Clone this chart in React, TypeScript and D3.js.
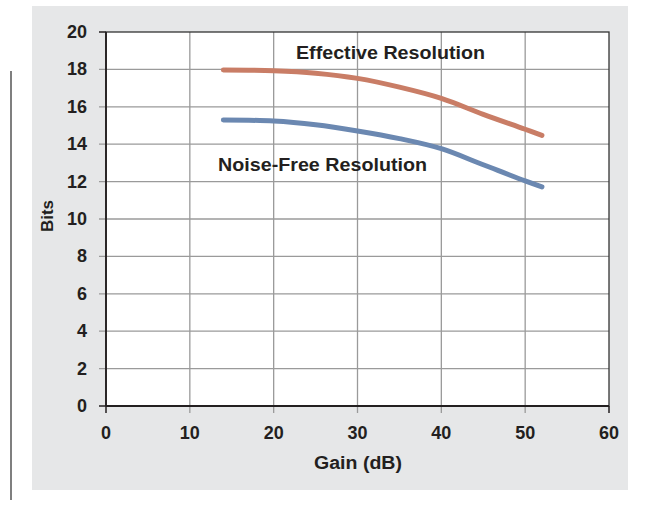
import React from "react";
import * as d3 from "d3";

const xTicks = [0, 10, 20, 30, 40, 50, 60];
const yTicks = [0, 2, 4, 6, 8, 10, 12, 14, 16, 18, 20];
const gain = [14, 20, 25, 30, 35, 40, 45, 50, 52];
const effective = [17.97, 17.93, 17.8, 17.52, 17.05, 16.45, 15.6, 14.8, 14.47];
const noiseFree = [15.29, 15.24, 15.04, 14.71, 14.3, 13.76, 12.9, 12.04, 11.72];

export default function App() {
  const W = 647, H = 508;
  const x = d3.scaleLinear().domain([0, 60]).range([106, 609]);
  const y = d3.scaleLinear().domain([0, 20]).range([406, 32]);
  const line = d3
    .line<[number, number]>()
    .x((d) => x(d[0]))
    .y((d) => y(d[1]))
    .curve(d3.curveCatmullRom.alpha(0.5));
  const eff = gain.map((g, i) => [g, effective[i]] as [number, number]);
  const nf = gain.map((g, i) => [g, noiseFree[i]] as [number, number]);
  const font = "'Liberation Sans', Arial, sans-serif";
  const txt = "#231f20";
  return (
    <svg width={W} height={H} style={{ position: "absolute", left: 0, top: 0 }}>
      <line x1={11} x2={11} y1={71} y2={500} stroke="#555" strokeWidth={1.5} />
      <rect x={32} y={6} width={596} height={484} fill="#e6e7e8" />
      <rect x={x(0)} y={y(20)} width={x(60) - x(0)} height={y(0) - y(20)} fill="#fff" />
      {xTicks.slice(1, -1).map((t) => (
        <line key={"gx" + t} x1={x(t)} x2={x(t)} y1={y(20)} y2={y(0) + 7} stroke="#9a9a9a" strokeWidth={1.3} />
      ))}
      {yTicks.slice(1, -1).map((t) => (
        <line key={"gy" + t} x1={x(0) - 7} x2={x(60)} y1={y(t)} y2={y(t)} stroke="#9a9a9a" strokeWidth={1.3} />
      ))}
      <line x1={x(0) - 7} x2={x(0)} y1={y(0)} y2={y(0)} stroke="#231f20" strokeWidth={1.5} />
      <line x1={x(0) - 7} x2={x(0)} y1={y(20)} y2={y(20)} stroke="#231f20" strokeWidth={1.5} />
      <line x1={x(0)} x2={x(0)} y1={y(0)} y2={y(0) + 7} stroke="#231f20" strokeWidth={1.5} />
      <line x1={x(60)} x2={x(60)} y1={y(0)} y2={y(0) + 7} stroke="#231f20" strokeWidth={1.5} />
      <rect x={x(0)} y={y(20)} width={x(60) - x(0)} height={y(0) - y(20)} fill="none" stroke="#333" strokeWidth={1.3} />
      <line x1={x(0)} x2={x(0)} y1={y(20)} y2={y(0)} stroke="#231f20" strokeWidth={1.8} />
      <line x1={x(0)} x2={x(60)} y1={y(0)} y2={y(0)} stroke="#231f20" strokeWidth={1.8} />
      {yTicks.map((t) => (
        <text key={"ty" + t} x={87} y={y(t)} textAnchor="end" dominantBaseline="central" fontFamily={font} fontWeight="bold" fontSize={18} fill={txt}>
          {t}
        </text>
      ))}
      {xTicks.map((t) => (
        <text key={"tx" + t} x={x(t)} y={433} textAnchor="middle" dominantBaseline="central" fontFamily={font} fontWeight="bold" fontSize={18} fill={txt}>
          {t}
        </text>
      ))}
      <text x={358} y={463} textAnchor="middle" dominantBaseline="central" fontFamily={font} fontWeight="bold" fontSize={18} fill={txt} textLength={88} lengthAdjust="spacingAndGlyphs">
        Gain (dB)
      </text>
      <text transform="translate(47,216) rotate(-90)" textAnchor="middle" dominantBaseline="central" fontFamily={font} fontWeight="bold" fontSize={17} fill={txt}>
        Bits
      </text>
      <path d={line(eff) || ""} fill="none" stroke="#c97d66" strokeWidth={5} strokeLinecap="round" />
      <path d={line(nf) || ""} fill="none" stroke="#6b88b1" strokeWidth={5} strokeLinecap="round" />
      <text x={390.5} y={52.5} textAnchor="middle" dominantBaseline="central" fontFamily={font} fontWeight="bold" fontSize={18} fill={txt} textLength={189} lengthAdjust="spacingAndGlyphs">
        Effective Resolution
      </text>
      <text x={322.5} y={164.5} textAnchor="middle" dominantBaseline="central" fontFamily={font} fontWeight="bold" fontSize={18} fill={txt} textLength={209} lengthAdjust="spacingAndGlyphs">
        Noise-Free Resolution
      </text>
    </svg>
  );
}
